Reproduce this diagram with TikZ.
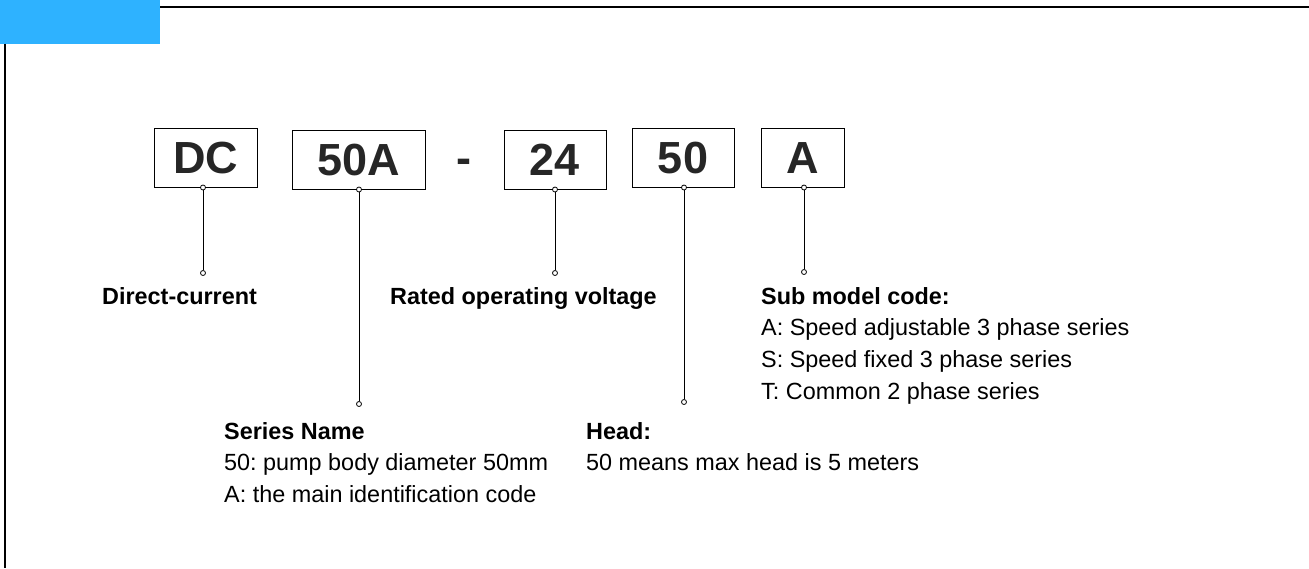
\documentclass[tikz,border=0pt]{standalone}
\usepackage{fontspec}
\setmainfont{Liberation Sans}
\frenchspacing
\definecolor{tabblue}{HTML}{2EB2FF}
\definecolor{boxtext}{HTML}{262626}
\begin{document}
\begin{tikzpicture}[x=1pt,y=-1pt,
  codebox/.style={draw=black,line width=1pt,inner sep=0pt,text=boxtext,
    font=\fontsize{45}{50}\selectfont\bfseries,text height=32pt,text depth=0pt},
  pin/.style={circle,draw=black,fill=white,line width=0.8pt,inner sep=0pt,minimum size=5pt},
  conn/.style={draw=black,line width=1pt},
  lbl/.style={anchor=base west,inner sep=0pt,font=\fontsize{23.4}{30}\selectfont},
  lblb/.style={lbl,font=\fontsize{23.4}{30}\selectfont\bfseries}]
\useasboundingbox (0,0) rectangle (1309,568);
% frame
\fill[tabblue] (0,0) rectangle (160,43.5);
\draw[line width=2pt] (160,7) -- (1309,7);
\draw[line width=2pt] (5,43.5) -- (5,568);
% code boxes
\node[codebox,minimum width=103pt,minimum height=59pt] (dc) at (205.5,157.5) {DC};
\node[codebox,minimum width=133pt,minimum height=59pt] (ser) at (358.5,159.5) {50A};
\node[inner sep=0pt,anchor=base,text=boxtext,font=\fontsize{45}{50}\selectfont\bfseries] (dash) at (463.5,173) {-};
\node[codebox,minimum width=102pt,minimum height=59pt] (volt) at (555,159.5) {24};
\node[codebox,minimum width=102pt,minimum height=59pt] (head) at (683,157.5) {50};
\node[codebox,minimum width=83pt,minimum height=59pt] (sub) at (802.5,157.5) {A};
% pins
\node[pin] (p1a) at (dc.south -| 203,0) {};
\node[pin] (p1b) at (203,273) {};
\node[pin] (p2a) at (ser.south -| 359,0) {};
\node[pin] (p2b) at (359,404) {};
\node[pin] (p3a) at (volt.south -| 555,0) {};
\node[pin] (p3b) at (555,273) {};
\node[pin] (p4a) at (head.south -| 684,0) {};
\node[pin] (p4b) at (684,402) {};
\node[pin] (p5a) at (sub.south -| 804,0) {};
\node[pin] (p5b) at (804,272) {};
\draw[conn] (p1a) -- (p1b);
\draw[conn] (p2a) -- (p2b);
\draw[conn] (p3a) -- (p3b);
\draw[conn] (p4a) -- (p4b);
\draw[conn] (p5a) -- (p5b);
% labels
\node[lblb] (l1) at (102,304) {Direct-current};
\node[lblb] (l3) at (390,304) {Rated operating voltage};
\node[lblb] (l5) at (761,304) {Sub model code:};
\node[lbl] (l5a) at (761,335.7) {A: Speed adjustable 3 phase series};
\node[lbl] (l5b) at (761,367.4) {S: Speed fixed 3 phase series};
\node[lbl] (l5c) at (761,399) {T: Common 2 phase series};
\node[lblb] (l2) at (224,439) {Series Name};
\node[lbl] (l2a) at (224,470.5) {50: pump body diameter 50mm};
\node[lbl] (l2b) at (224,502) {A: the main identification code};
\node[lblb] (l4) at (586,439) {Head:};
\node[lbl] (l4a) at (586,470.5) {50 means max head is 5 meters};
\end{tikzpicture}
\end{document}
